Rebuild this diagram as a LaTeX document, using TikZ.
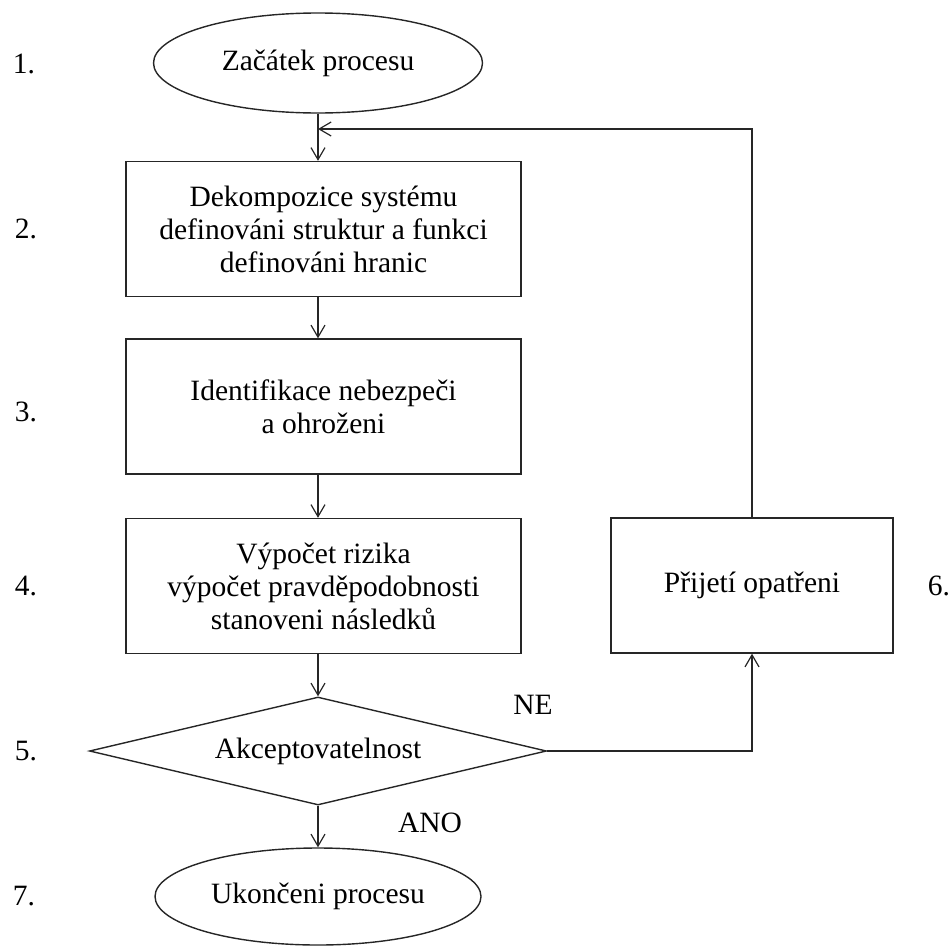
\documentclass[tikz,border=0pt]{standalone}
\usepackage{fontspec}
\setmainfont{Liberation Serif}
\usetikzlibrary{shapes.geometric,arrows.meta}
\begin{document}
\begin{tikzpicture}[x=1pt,y=-1pt,
  every node/.style={font=\fontsize{29.5}{33}\selectfont, inner sep=0pt},
  line/.style={draw=black!85, line width=1.4pt},
  arr/.style={line, -{Straight Barb[length=12pt,width=14pt,line width=1.2pt]}},
  term/.style={line, ellipse, align=center},
  procbox/.style={line, rectangle, align=center, minimum width=395pt, minimum height=135pt},
  decision/.style={line, diamond, aspect=4.23, minimum width=457pt, minimum height=108pt},
  num/.style={anchor=center}
]
\useasboundingbox (0,0) rectangle (950,945);

\node[term, minimum width=329pt, minimum height=100pt] (start) at (318,63) {Začátek procesu};
\node[procbox] (b2) at (323.5,229) {Dekompozice systému\\definováni struktur a funkci\\definováni hranic};
\node[procbox] (b3) at (323.5,406.5) {Identifikace nebezpeči\\a ohroženi};
\node[procbox] (b4) at (323.5,586) {Výpočet rizika\\výpočet pravděpodobnosti\\stanoveni následků};
\node[decision] (dec) at (318,751) {Akceptovatelnost};
\node[term, minimum width=326pt, minimum height=97pt] (end) at (318,896.5) {Ukončeni procesu};
\node[procbox, minimum width=282pt, minimum height=135pt] (p) at (752,585.5) {Přijetí opatřeni};

\node[num] (n1) at (24,64) {1.};
\node[num] (n2) at (26,229) {2.};
\node[num] (n3) at (26,412) {3.};
\node[num] (n4) at (26,586) {4.};
\node[num] (n5) at (26,751) {5.};
\node[num] (n6) at (939,586) {6.};
\node[num] (n7) at (24,896) {7.};

\node (ne) at (533,705) {NE};
\node (ano) at (430,823) {ANO};

\coordinate (fb) at (start.south |- 0,129);

\draw[arr] (start.south) -- (start.south |- b2.north);
\draw[arr] (start.south |- b2.south) -- (start.south |- b3.north);
\draw[arr] (start.south |- b3.south) -- (start.south |- b4.north);
\draw[arr] (start.south |- b4.south) -- (dec.north);
\draw[arr] (dec.south) -- (end.north);
\draw[arr] (dec.east) -| (p.south);
\draw[arr] (p.north) |- (fb);
\end{tikzpicture}
\end{document}
